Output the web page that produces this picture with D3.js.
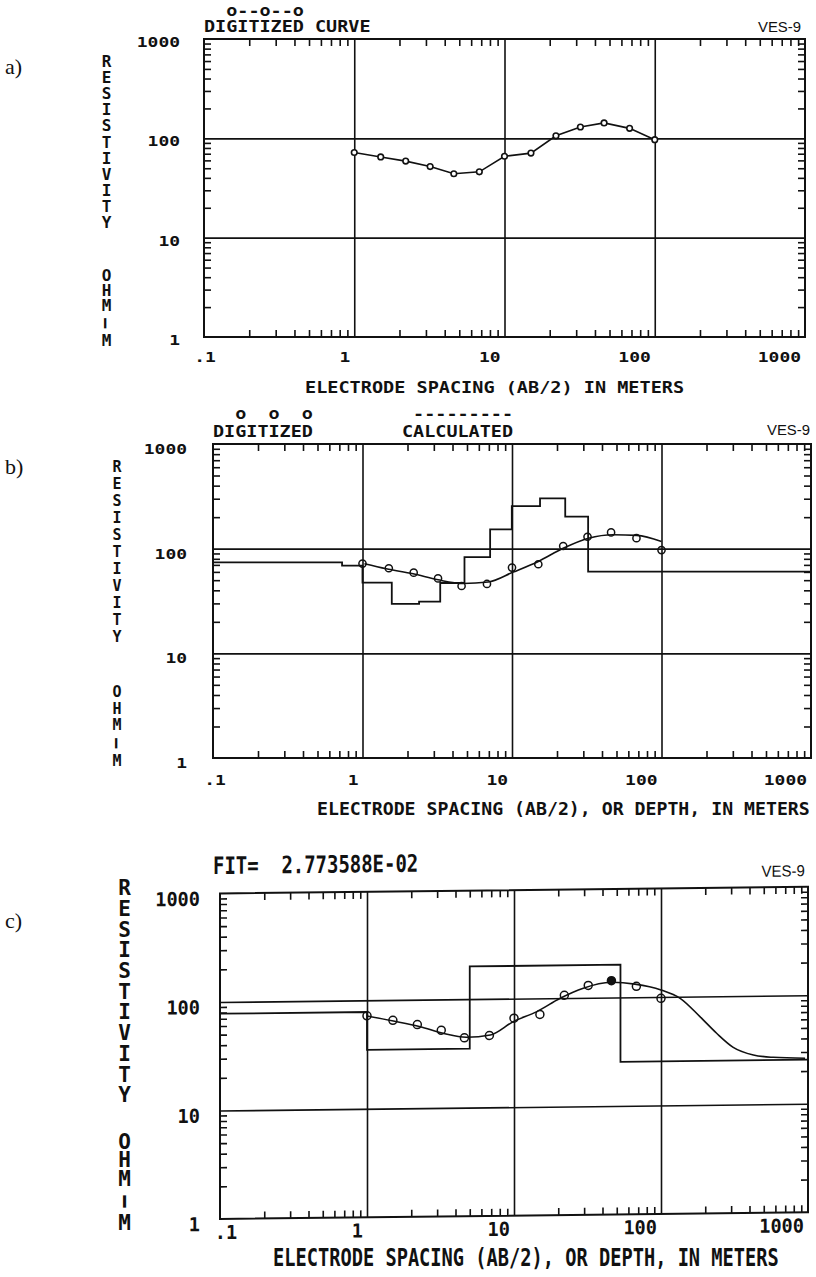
<!DOCTYPE html>
<html>
<head>
<meta charset="utf-8">
<script src="https://cdn.jsdelivr.net/npm/d3@7"></script>
<style>
body { margin: 0; background: #fff; }
svg { display: block; }
.mono { font-family: "DejaVu Sans Mono", "Liberation Mono", monospace; font-weight: bold; fill: #111; white-space: pre; }
.vert { writing-mode: vertical-rl; text-orientation: upright; }
.sans { font-family: "Liberation Sans", Arial, sans-serif; fill: #111; }
.serif { font-family: "Liberation Serif", "Times New Roman", serif; fill: #111; }
</style>
</head>
<body>
<script>
// digitized sounding: AB/2 (m) and apparent resistivity (ohm-m)
const spacing = [1.0, 1.5, 2.2, 3.2, 4.6, 6.8, 10, 15, 22, 32, 46, 68, 100];
const rhoDigitized = [72, 65, 59, 52, 44, 46, 66, 71, 106, 130, 143, 126, 97];

// b) starting model: layer bottoms (m) and resistivities, plus calculated curve
const depthB = [0.73, 1.0, 1.57, 2.39, 3.31, 4.81, 7.14, 9.97, 15.4, 22.7, 32.3];
const rhoModelB = [74, 69, 47.4, 29.7, 31.2, 47, 83, 153, 255, 303, 202, 60.4];
const calcXB = [1.03, 1.44, 2.18, 3.2, 4.71, 6.93, 10.2, 15, 22, 32.5, 47.6, 68.4, 100];
const calcYB = [71.8, 64.3, 57.5, 50.4, 46.5, 48, 59.8, 75.5, 101, 126, 136, 134, 117];

// c) final model and its calculated curve
const depthC = [1.0, 5.0, 53];
const rhoModelC = [78, 35, 200, 25.5];
const calcXC = [1.0, 1.51, 2.3, 3.3, 4.76, 6.9, 9.9, 14.3, 20.6, 29.6, 45.7, 66.5, 100, 135, 184, 239, 310, 425, 580, 955];
const calcYC = [71.6, 64, 56.4, 48.7, 44.5, 46.5, 61.4, 75.4, 99.5, 122.6, 138, 132, 116, 96.6, 65.2, 45.6, 33.7, 28.5, 27, 26.3];

const xTicks = [0.1, 1, 10, 100, 1000];
const xTickLabels = [".1", "1", "10", "100", "1000"];
const yTicks = [1, 10, 100, 1000];
const yTickLabels = ["1", "10", "100", "1000"];

const svg = d3.select("body").append("svg")
  .attr("width", 816).attr("height", 1277);

function txt(g, x, y, s, size, adv, anchor, cls) {
  return g.append("text")
    .attr("class", cls || "mono")
    .attr("x", x).attr("y", y)
    .attr("font-size", size)
    .attr("text-anchor", anchor || "start")
    .attr("textLength", adv * s.length)
    .attr("lengthAdjust", "spacingAndGlyphs")
    .text(s);
}

// a word written top to bottom with upright letters; c0 = centre of first letter
function vword(g, x, c0, step, s, size) {
  return g.append("text").attr("class", "mono vert")
    .attr("x", x).attr("y", c0 - step / 2)
    .attr("font-size", size)
    .attr("textLength", step * s.length)
    .attr("lengthAdjust", "spacing")
    .text(s);
}

// "RESISTIVITY  OHM-M" down the left side, the hyphen turned upright like the plotter did
function yTitle(x, c0, step, c1, step1, size, w) {
  vword(svg, x, c0, step, "RESISTIVITY", size);
  vword(svg, x, c1, step1, "OHM", size);
  const yy = c1 + 3 * step1 + size * 0.36;
  txt(svg, x, yy, "-", size, w * 2, "middle")
    .attr("transform", `rotate(90,${x},${yy - size * 0.34})`);
  vword(svg, x, c1 + 4 * step1, step1, "M", size);
}

function panel(p) {
  const g = svg.append("g");
  if (p.skew) g.attr("transform", `translate(${p.left},0) skewY(${p.skew}) translate(${-p.left},0)`);

  const x = d3.scaleLog().domain([0.1, 1000]).range([p.left, p.right]);
  const y = d3.scaleLog().domain([1, 1000]).range([p.bottom, p.top]);
  const h = p.bottom - p.top, w = p.right - p.left;

  const minorX = x.ticks().filter(v => !xTicks.includes(v));
  const minorY = y.ticks().filter(v => !yTicks.includes(v));

  // grid lines at the inner decades
  g.append("g").attr("transform", `translate(0,${p.bottom})`)
    .call(d3.axisBottom(x).tickValues([1, 10, 100]).tickSize(-h).tickFormat(""));
  g.append("g").attr("transform", `translate(${p.left},0)`)
    .call(d3.axisLeft(y).tickValues([10, 100]).tickSize(-w).tickFormat(""));

  // inward minor ticks on all four sides
  g.append("g").attr("transform", `translate(0,${p.bottom})`)
    .call(d3.axisBottom(x).tickValues(minorX).tickSize(-p.tick).tickFormat(""));
  g.append("g").attr("transform", `translate(0,${p.top})`)
    .call(d3.axisTop(x).tickValues(minorX).tickSize(-p.tick).tickFormat(""));
  g.append("g").attr("transform", `translate(${p.left},0)`)
    .call(d3.axisLeft(y).tickValues(minorY).tickSize(-p.tick).tickFormat(""));
  g.append("g").attr("transform", `translate(${p.right},0)`)
    .call(d3.axisRight(y).tickValues(minorY).tickSize(-p.tick).tickFormat(""));

  g.selectAll(".domain").remove();
  g.selectAll(".tick line").attr("stroke", "#111").attr("stroke-width", 1.6);

  g.append("rect")
    .attr("x", p.left).attr("y", p.top).attr("width", w).attr("height", h)
    .attr("fill", "none").attr("stroke", "#111").attr("stroke-width", 2);

  // tick labels
  yTicks.forEach((v, i) => {
    txt(g, p.left - p.ylabGap, y(v) + p.ylabDy, yTickLabels[i], p.tickSize, p.tickAdv, "end");
  });
  xTicks.forEach((v, i) => {
    if (i === 0) txt(g, x(v) + p.firstDx, p.xlabY, xTickLabels[i], p.tickSize, p.tickAdv, "middle");
    else txt(g, x(v) - 4, p.xlabY, xTickLabels[i], p.tickSize, p.tickAdv, "end");
  });

  return { g, x, y };
}

const line = (x, y) => d3.line().x(d => x(d[0])).y(d => y(d[1]));

function stepModel(P, depth, rho) {
  const pts = [[0.1, rho[0]]];
  depth.forEach((d, i) => pts.push([d, rho[i + 1]]));
  pts.push([1000, rho[rho.length - 1]]);
  P.g.append("path").datum(pts)
    .attr("d", line(P.x, P.y).curve(d3.curveStepAfter))
    .attr("fill", "none").attr("stroke", "#111").attr("stroke-width", 1.8);
}

function calcCurve(P, xs, ys) {
  P.g.append("path").datum(xs.map((v, i) => [v, ys[i]]))
    .attr("d", line(P.x, P.y).curve(d3.curveMonotoneX))
    .attr("fill", "none").attr("stroke", "#111").attr("stroke-width", 1.6);
}

function points(P, r, filledIndex) {
  P.g.selectAll(null).data(spacing.map((v, i) => [v, rhoDigitized[i]]))
    .enter().append("circle")
    .attr("cx", d => P.x(d[0])).attr("cy", d => P.y(d[1]))
    .attr("r", r)
    .attr("fill", (d, i) => i === filledIndex ? "#111" : "none")
    .attr("stroke", "#111").attr("stroke-width", 1.5);
}

// ---------- a) ----------
const A = panel({ left: 204, right: 805, top: 39, bottom: 337, tick: 7,
  ylabGap: 24, ylabDy: 8, tickSize: 14, tickAdv: 10.8, xlabY: 362, firstDx: 1 });
A.g.append("path").datum(spacing.map((v, i) => [v, rhoDigitized[i]]))
  .attr("d", line(A.x, A.y)).attr("fill", "none").attr("stroke", "#111").attr("stroke-width", 1.6);
A.g.selectAll(null).data(spacing.map((v, i) => [v, rhoDigitized[i]]))
  .enter().append("circle")
  .attr("cx", d => A.x(d[0])).attr("cy", d => A.y(d[1])).attr("r", 2.8)
  .attr("fill", "#fff").attr("stroke", "#111").attr("stroke-width", 1.6);
txt(svg, 204, 15.5, "  o--o--o", 15, 11.1);
txt(svg, 204, 32.3, "DIGITIZED CURVE", 16, 11.1);
txt(svg, 801, 32, "VES-9", 14, 8.6, "end", "sans");
txt(svg, 305, 393, "ELECTRODE SPACING (AB/2) IN METERS", 16, 11.15);
yTitle(106.5, 60, 16.4, 274, 16.3, 16, 10);
svg.append("text").attr("class", "serif").attr("x", 5).attr("y", 74).attr("font-size", 22).text("a)");

// ---------- b) ----------
const B = panel({ left: 213, right: 811, top: 444, bottom: 758, tick: 7,
  ylabGap: 26, ylabDy: 10, tickSize: 14, tickAdv: 10.8, xlabY: 785, firstDx: 2 });
stepModel(B, depthB, rhoModelB);
calcCurve(B, calcXB, calcYB);
points(B, 3.6, -1);
txt(svg, 213, 419, "  o  o  o", 15, 11.1);
txt(svg, 213, 437, "DIGITIZED", 16, 11.1);
txt(svg, 402, 419, " ---------", 16, 11.1);
txt(svg, 402, 437, "CALCULATED", 16, 11.1);
txt(svg, 810, 435, "VES-9", 14, 8.6, "end", "sans");
txt(svg, 317, 815, "ELECTRODE SPACING (AB/2), OR DEPTH, IN METERS", 18, 10.95);
yTitle(117, 466.7, 17.1, 691.7, 17.1, 15, 10);
svg.append("text").attr("class", "serif").attr("x", 5).attr("y", 474).attr("font-size", 22).text("b)");

// ---------- c) ----------
const C = panel({ left: 220, right: 808, top: 893.5, bottom: 1219, tick: 7, skew: -0.66,
  ylabGap: 20, ylabDy: 12, tickSize: 19, tickAdv: 11.2, xlabY: 1239, firstDx: 6 });
stepModel(C, depthC, rhoModelC);
calcCurve(C, calcXC, calcYC);
points(C, 4, 10);
txt(C.g, 213, 874, "FIT=  2.773588E-02", 24, 11.4);
txt(C.g, 805, 883, "VES-9", 16, 8.7, "end", "sans");
// tall narrow plotter lettering: a smaller font stretched upward
txt(svg, 0, 0, "ELECTRODE SPACING (AB/2), OR DEPTH, IN METERS", 19.5, 11.24)
  .attr("transform", "translate(273,1265.5) scale(1,1.23)");
yTitle(124.7, 886.7, 21, 1140, 20.4, 21, 12);
svg.append("text").attr("class", "serif").attr("x", 5).attr("y", 928).attr("font-size", 22).text("c)");
</script>
</body>
</html>
